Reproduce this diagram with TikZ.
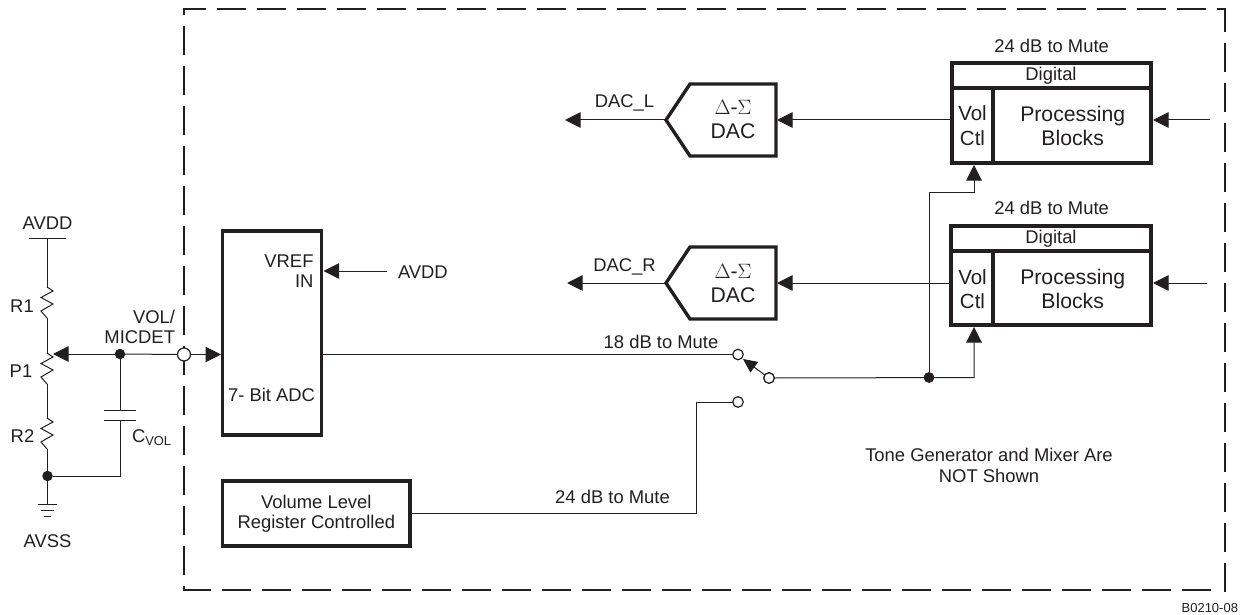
\documentclass[tikz,border=0pt]{standalone}
\usepackage{fontspec}
\setmainfont{Liberation Sans}
\usetikzlibrary{arrows.meta}
\definecolor{ink}{HTML}{231F20}
\tikzset{
 x=1pt,y=-1pt,
 every node/.style={inner sep=0pt,outer sep=0pt,text=ink,font=\fontsize{18.4}{20.5}\selectfont,align=center},
 wire/.style={draw=ink,line width=1pt},
 arr/.style={wire,-{Triangle[length=15.5pt,width=15.5pt,fill=ink]}},
 block/.style={draw=ink,line width=3.4pt,fill=white,rectangle},
 thick box/.style={draw=ink,line width=3.4pt,line join=miter},
 big/.style={font=\fontsize{21.2}{24.3}\selectfont},
 mid/.style={font=\fontsize{20.5}{24.5}\selectfont},
 dot/.style={circle,fill=ink,minimum size=10.5pt},
 hole/.style={circle,draw=ink,line width=1.2pt,fill=white,minimum size=10.5pt},
 frameline/.style={draw=ink,line width=2.4pt},
}
\newcommand{\zig}[3]{%
 \draw[wire,line join=miter] (#1,#2) -- (#1+6,#2+4) -- (#1-6,#2+10.5) -- (#1+6,#2+17) -- (#1-6,#2+24) -- (#1,#3);}
\begin{document}
\begin{tikzpicture}
\useasboundingbox (0,0) rectangle (1244,615);
\fill[white] (0,0) rectangle (1244,615);
% frame
\draw[frameline,dash pattern=on 29.2pt off 10.8pt,dash phase=6pt] (182.8,9) -- (1226,9);
\draw[frameline,dash pattern=on 29.2pt off 10.8pt,dash phase=23pt] (184,9) -- (184,591);
\draw[frameline,dash pattern=on 29.2pt off 10.8pt,dash phase=6pt] (1225,9) -- (1225,591.5);
\draw[frameline,dash pattern=on 29.2pt off 10.8pt,dash phase=1pt] (183,590) -- (1213,590);
% blocks
\node[block,minimum width=99pt,minimum height=204pt] (adc) at (272,333) {};
\node[anchor=east,align=right] (vref) at (313.5,271) {VREF\\IN};
\node (adclabel) at (271.5,395) {7- Bit ADC};
\node[block,minimum width=187.5pt,minimum height=65pt] (vlr) at (316.3,513.5) {Volume Level\\Register Controlled};
% DACs
\coordinate (dacLtip) at (666,120);
\coordinate (dacLin) at (777,120);
\draw[thick box] (dacLtip) -- (690,84) -- (776,84) -- (776,156) -- (690,156) -- cycle;
\node[big] (dacLt) at (733,119.5) {$\Delta$-$\Sigma$\\DAC};
\coordinate (dacRtip) at (666,283);
\coordinate (dacRin) at (777,283);
\draw[thick box] (dacRtip) -- (690,247) -- (776,247) -- (776,319) -- (690,319) -- cycle;
\node[big] (dacRt) at (733,283.5) {$\Delta$-$\Sigma$\\DAC};
% digital blocks
\draw[thick box] (952,63) rectangle (1151,163);
\draw[thick box] (952,88) -- (1151,88) (993,88) -- (993,163);
\node (digA) at (1051,75.5) {Digital};
\node[mid] (volA) at (972.5,125.5) {Vol\\Ctl};
\node[big] (procA) at (1072.7,126) {Processing\\Blocks};
\node (muteA) at (1051.6,46) {24 dB to Mute};
\draw[thick box] (951,226) rectangle (1151,325);
\draw[thick box] (951,251) -- (1151,251) (993,251) -- (993,325);
\node (digB) at (1051,238.5) {Digital};
\node[mid] (volB) at (972.5,289) {Vol\\Ctl};
\node[big] (procB) at (1072.7,289) {Processing\\Blocks};
\node (muteB) at (1051.6,208) {24 dB to Mute};
\coordinate (volAo) at (950,120);
\coordinate (volBo) at (949,283);
\coordinate (upA) at (974,165);
\coordinate (upB) at (974,327);
% connectors
\coordinate (inA) at (1210,120);
\coordinate (inB) at (1207,283);
\draw[arr] (inA) -- (1153,120);
\draw[arr] (inB) -- (1153,283);
\draw[arr] (volAo) -- (dacLin);
\draw[arr] (volBo) -- (dacRin);
\coordinate (outL) at (565,120);
\coordinate (outR) at (567,283);
\draw[arr] (dacLtip) -- (outL);
\draw[arr] (dacRtip) -- (outR);
\node (dacL) at (624.5,103) {DAC\_L};
\node (dacR) at (624.5,267) {DAC\_R};
% switch
\node[hole] (swT) at (738,354.5) {};
\node[hole] (swB) at (738,402) {};
\node[hole] (swP) at (769,378) {};
\node[dot] (jn) at (929,377.5) {};
\draw[wire] (adc.east |- swT.west) -- (swT.west);
\draw[wire] (vlr.east) -- (696,513.5) -- (696,402) -- (swB.west);
\draw[wire,-{Triangle[length=14pt,width=13pt,fill=ink]}] (swP) -- (743,359);
\node[hole] (swP2) at (769,378) {};
\draw[arr] (swP2.east) -- (974,377.5) -- (upB);
\draw[arr] (jn) -- (929,192) -- (974,192) -- (upA);
\node[dot] (jn2) at (929,377.5) {};
\node (mute18) at (661,342) {18 dB to Mute};
\node (mute24) at (612.5,497) {24 dB to Mute};
\node (tone) at (989,465.5) {Tone Generator and Mixer Are\\NOT Shown};
% VREF
\coordinate (avddin) at (387,271);
\draw[arr] (avddin) -- (323.5,271);
\node[anchor=west] (avddr) at (398,272) {AVDD};
% left circuit
\coordinate (top) at (47,238);
\draw[wire] (29,238) -- (66,238);
\draw[wire] (top) -- (47,287);
\zig{47}{287}{318}
\draw[wire] (47,318) -- (47,353);
\zig{47}{353}{384}
\draw[wire] (47,384) -- (47,418);
\zig{47}{418}{449}
\draw[wire] (47,449) -- (47,504);
\node[dot] (gnd) at (47.5,476) {};
\draw[wire] (38,504) -- (57,504) (41,510.5) -- (54,510.5) (44,516) -- (51,516);
\node[dot] (jc) at (120,354) {};
\node[hole,minimum size=13pt] (pin) at (184,354.5) {};
\draw[arr] (jc) -- (53,354);
\draw[wire] (jc) -- (pin);
\draw[arr] (pin) -- (221,354.5);
\draw[wire] (jc) -- (120,410) (104,410) -- (136,410) (104,420) -- (136,420) (120,420) -- (120,476) -- (gnd);
% labels
\node (lavdd) at (47.5,223) {AVDD};
\node (lr1) at (22,306) {R1};
\node (lp1) at (21,371) {P1};
\node (lr2) at (22.5,436) {R2};
\node[anchor=east] (lvol) at (175,317) {VOL/};
\node[anchor=east] (lmic) at (175,337) {MICDET};
\node[anchor=west] (lc) at (132,438) {C\textsubscript{VOL}};
\node (lavss) at (47.5,541) {AVSS};
\node[anchor=east,font=\fontsize{13}{15}\selectfont] (code) at (1238,608) {B0210-08};
\end{tikzpicture}
\end{document}
